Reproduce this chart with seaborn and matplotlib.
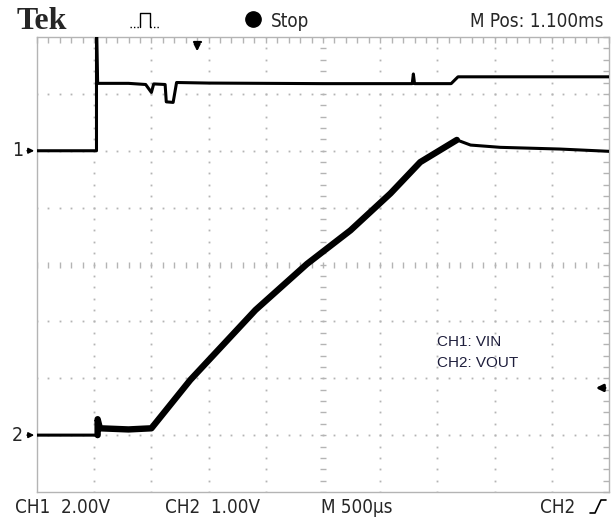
import matplotlib

matplotlib.use("Agg")

import matplotlib.pyplot as plt
import numpy as np
import seaborn as sns
from matplotlib.lines import Line2D

# time in ms, voltage in V (500us/div, CH1 2V/div, CH2 1V/div)
CH1_T = [0.00, 0.52, 0.52, 0.53, 0.80, 0.95, 1.00, 1.02, 1.12, 1.13, 1.19, 1.22,
         1.50, 2.50, 3.28, 3.29, 3.30, 3.62, 3.68, 5.00]
CH1_V = [0.00, 0.00, 4.60, 2.37, 2.37, 2.33, 2.05, 2.35, 2.33, 1.72, 1.70, 2.40,
         2.38, 2.36, 2.36, 2.70, 2.36, 2.36, 2.60, 2.60]

CH2_T = [0.00, 0.52, 0.53, 0.53, 0.55, 0.80, 1.00, 1.34, 1.91, 2.36, 2.74, 3.09,
         3.35, 3.67, 3.79, 4.05, 4.57, 5.00]
CH2_V = [0.00, 0.00, 0.00, 0.28, 0.12, 0.10, 0.12, 0.97, 2.20, 3.01, 3.60, 4.25,
         4.80, 5.19, 5.10, 5.06, 5.03, 4.99]

CH1_GROUND_DIV = 6
CH2_GROUND_DIV = 1
CH1_VOLTS_PER_DIV = 2.0
CH2_VOLTS_PER_DIV = 1.0
MS_PER_DIV = 0.5
TRIGGER_LEVEL_V = 0.83
TRIGGER_TIME_MS = 1.40

HEADER = ["Tek", "Stop", "M Pos: 1.100ms"]
FOOTER = ["CH1  2.00V", "CH2  1.00V", "M 500µs", "CH2"]
NOTES = ["CH1: VIN", "CH2: VOUT"]

W, H = 613, 519
GRID = "#b4b4b4"
NARROW = ["DejaVu Sans", "Liberation Sans"]


def fx(px):
    return px / W


def fy(py):
    return 1 - py / H


def draw_graticule(ax):
    steps = np.arange(0, 10.01, 0.2)
    vsteps = np.arange(0, 8.01, 0.2)
    for k in range(1, 10):
        if k == 5:
            continue
        ax.plot(np.full(len(vsteps), k), vsteps, ls="none", marker="s",
                ms=1.3, mew=0, color=GRID, zorder=1)
    for k in range(1, 8):
        if k == 4:
            continue
        ax.plot(steps, np.full(len(steps), k), ls="none", marker="s",
                ms=1.3, mew=0, color=GRID, zorder=1)
    ax.plot(steps, np.full(len(steps), 4), ls="none", marker="|",
            ms=4, mew=1, color=GRID, zorder=1)
    ax.plot(np.full(len(vsteps), 5), vsteps, ls="none", marker="_",
            ms=4, mew=1, color=GRID, zorder=1)

    ax.set_xlim(0, 10)
    ax.set_ylim(0, 8)
    ax.set_xticks(steps)
    ax.set_yticks(vsteps)
    ax.tick_params(direction="in", length=4, width=1, color=GRID,
                   top=True, right=True, labelbottom=False, labelleft=False)
    for spine in ax.spines.values():
        spine.set_visible(True)
        spine.set_color(GRID)
        spine.set_linewidth(1)
    ax.set_xlabel("")
    ax.set_ylabel("")


def main() -> None:
    sns.set_style("white")
    plt.rcParams["font.family"] = NARROW
    plt.rcParams["font.stretch"] = "condensed"

    fig = plt.figure(figsize=(W / 100, H / 100), dpi=100)
    ax = fig.add_axes([fx(37), fy(492), fx(572), 455 / H])
    draw_graticule(ax)

    ch1_t = np.array(CH1_T)
    ch1_v = np.array(CH1_V)
    ch2_t = np.array(CH2_T)
    ch2_v = np.array(CH2_V)

    ch1_x = ch1_t / MS_PER_DIV
    ch1_y = CH1_GROUND_DIV + ch1_v / CH1_VOLTS_PER_DIV
    ch2_x = ch2_t / MS_PER_DIV
    ch2_y = CH2_GROUND_DIV + ch2_v / CH2_VOLTS_PER_DIV

    sns.lineplot(x=ch1_x, y=ch1_y, sort=False, estimator=None, color="black",
                 lw=2.2, ax=ax, zorder=3)
    sns.lineplot(x=ch2_x, y=ch2_y, sort=False, estimator=None, color="black",
                 lw=2.2, ax=ax, zorder=3)
    busy = (ch2_t >= 0.53) & (ch2_t <= 3.7)
    sns.lineplot(x=ch2_x[busy], y=ch2_y[busy], sort=False, estimator=None,
                 color="black", lw=4.6, ax=ax, zorder=3)

    # channel ground markers and trigger markers
    for label, gnd in (("1", CH1_GROUND_DIV), ("2", CH2_GROUND_DIV)):
        ax.annotate("", xy=(0, gnd), xytext=(-0.22, gnd),
                    arrowprops=dict(arrowstyle="-|>", color="black", lw=1.2,
                                    mutation_scale=8), annotation_clip=False)
        ax.text(-0.24, gnd, label, ha="right", va="center", fontsize=14,
                clip_on=False)
    trig_y = CH2_GROUND_DIV + TRIGGER_LEVEL_V / CH2_VOLTS_PER_DIV
    ax.annotate("", xy=(9.72, trig_y), xytext=(9.98, trig_y),
                arrowprops=dict(arrowstyle="-|>", color="black", lw=2,
                                mutation_scale=10))
    trig_x = TRIGGER_TIME_MS / MS_PER_DIV
    ax.annotate("", xy=(trig_x, 7.7), xytext=(trig_x, 7.92),
                arrowprops=dict(arrowstyle="-|>", color="black", lw=1.6,
                                mutation_scale=9))
    ax.plot([trig_x - 0.06, trig_x + 0.06], [7.92, 7.92], color="black", lw=1.6)

    sans = ["Liberation Sans", "DejaVu Sans"]
    ax.text(7.0, 2.57, NOTES[0], fontsize=11, color="#1e1e3c", family=sans,
            stretch="normal")
    ax.text(7.0, 2.20, NOTES[1], fontsize=11, color="#1e1e3c", family=sans,
            stretch="normal")

    # header
    fig.text(fx(17), fy(29), HEADER[0], fontsize=23, fontweight="bold",
             family=["Liberation Serif", "DejaVu Serif"], stretch="normal",
             va="baseline")
    fig.add_artist(Line2D([fx(130), fx(140)], [fy(27), fy(27)], color="black",
                          lw=1, ls=(0, (1, 1.5))))
    fig.add_artist(Line2D([fx(150), fx(160)], [fy(27), fy(27)], color="black",
                          lw=1, ls=(0, (1, 1.5))))
    pulse = [(140, 27), (140, 13), (150, 13), (150, 27)]
    fig.add_artist(Line2D([fx(p[0]) for p in pulse], [fy(p[1]) for p in pulse],
                          color="black", lw=1))
    fig.add_artist(Line2D([fx(253)], [fy(19)], marker="o", ms=11,
                          color="black"))
    fig.text(fx(271), fy(27), HEADER[1], fontsize=13.5, va="baseline")
    fig.text(fx(470), fy(27), HEADER[2], fontsize=13.5, va="baseline")

    # footer
    for px, label in zip((15, 165, 321, 540), FOOTER):
        fig.text(fx(px), fy(513), label, fontsize=13.5, va="baseline")
    edge = [(590, 513), (595, 513), (601, 500), (606, 500)]
    fig.add_artist(Line2D([fx(p[0]) for p in edge], [fy(p[1]) for p in edge],
                          color="black", lw=1.2))

    fig.savefig("out.png", dpi=100, facecolor="white")
    plt.close(fig)


if __name__ == "__main__":
    main()
